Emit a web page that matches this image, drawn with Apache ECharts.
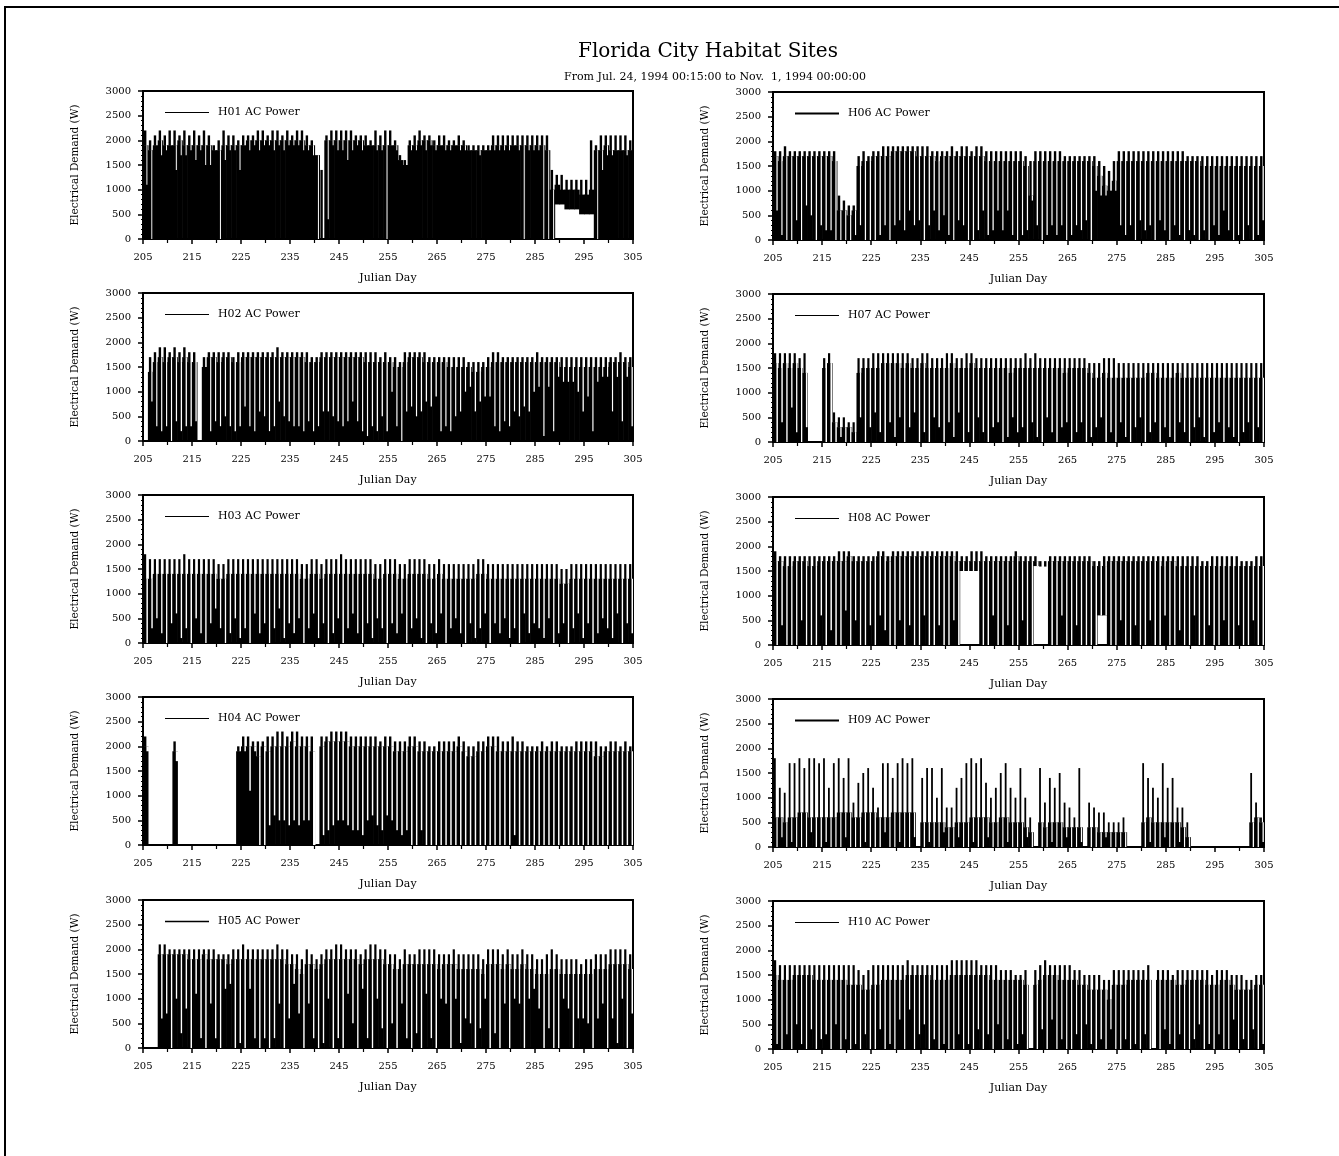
<!DOCTYPE html>
<html>
<head>
<meta charset="utf-8">
<script src="https://cdn.jsdelivr.net/npm/echarts@6/dist/echarts.min.js"></script>
<style>
html, body { margin: 0; background: #fff; }
#main { width: 1339px; height: 1156px; }
</style>
</head>
<body>
<div id="main"></div>
<script>
// Julian days 205..304, one entry per day; values are in units of 100 W
// peak = top of the spikes, level = top of the dense block,
// dip = how far down the white gap of that day reaches, base = bottom of the block
var firstDay = 205;

var h01Peak = [22,20,21,22,21,22,22,21,22,21, 22,21,22,21,19,20,22,21,21,20, 21,21,21,22,22,21,22,22,21,22, 21,22,22,21,20,17,14,21,22,22,
               22,22,22,21,21,21,20,22,21,22, 22,20,17,16,20,21,22,21,21,20, 21,21,20,20,21,20,19,19,19,19, 19,21,21,21,21,21,21,21,21,21,
               21,21,21,14,13,13,12,12,12,12, 12,20,19,21,21,21,21,21,21,20];
var h01Level = [19,18,19,20,19,19,19,20,19,19, 19,19,19,19,18,18,19,19,19,19, 19,20,20,20,20,20,20,20,20,20, 20,20,20,19,19,17,0,20,20,20,
                20,20,20,20,20,19,19,19,19,19, 19,19,16,15,19,19,20,20,20,19, 19,19,19,19,19,19,18,18,18,18, 18,19,19,19,19,19,19,19,19,19,
                19,19,18,10,11,10,10,10,10,9, 9,10,18,18,19,18,18,18,18,18];
var h01Dip = [11,0,19,17,18,19,14,17,17,18, 16,18,15,15,18,0,16,18,18,14, 19,18,19,18,19,19,18,19,18,19, 19,19,18,18,17,0,0,4,19,18,
              18,16,18,19,18,19,19,18,18,0, 19,18,16,15,18,18,19,18,19,18, 19,18,18,19,18,18,18,18,17,18, 18,18,18,18,18,19,18,0,18,18,
              18,0,0,0,11,10,10,10,10,9, 9,10,0,14,17,17,18,18,17,18];
var h01Base = [0,0,0,0,0,0,0,0,0,0, 0,0,0,0,0,0,0,0,0,0, 0,0,0,0,0,0,0,0,0,0, 0,0,0,0,0,0,0,0,0,0,
               0,0,0,0,0,0,0,0,0,0, 0,0,0,0,0,0,0,0,0,0, 0,0,0,0,0,0,0,0,0,0, 0,0,0,0,0,0,0,0,0,0,
               0,0,0,0,7,7,6,6,6,5, 5,5,0,0,0,0,0,0,0,0];

var h02Peak = [0,17,18,19,19,18,19,18,19,18, 18,0,17,18,18,18,18,18,17,18, 18,18,18,18,18,18,18,19,18,18, 18,18,18,18,17,17,18,18,18,18,
               18,18,18,18,18,18,18,18,17,18, 17,17,16,18,18,18,18,18,17,17, 17,17,17,17,17,17,16,16,16,16, 17,18,18,17,17,17,17,17,17,17,
               18,17,17,17,17,17,17,17,17,17, 17,17,17,17,17,17,17,18,17,17];
var h02Level = [0,14,16,17,16,17,17,16,17,16, 16,0,15,17,17,16,17,17,16,16, 17,17,17,17,17,17,17,17,17,17, 17,17,17,16,16,16,17,17,17,17,
                17,17,17,17,17,16,16,16,16,16, 16,15,15,16,17,17,17,16,16,16, 16,16,15,15,15,15,15,14,14,15, 15,16,16,16,16,16,16,16,16,16,
                16,16,16,16,16,15,15,15,15,15, 15,15,15,15,15,16,16,16,16,15];
var h02Dip = [0,8,3,2,3,0,4,2,3,3, 4,0,15,2,4,3,5,3,2,3, 7,3,2,6,5,2,3,8,5,4, 3,3,2,4,2,3,6,6,5,4,
              3,4,8,4,2,1,3,2,5,2, 10,3,0,6,7,5,6,8,7,9, 2,3,2,5,6,10,11,6,8,9, 9,3,2,4,3,6,5,7,6,10,
              11,1,11,2,13,12,12,12,10,6, 9,2,12,13,13,6,13,4,13,3];

var h03Peak = [18,17,17,17,17,17,17,17,18,17, 17,17,17,17,17,16,16,17,17,17, 17,17,17,17,17,17,17,17,17,17, 17,17,16,16,17,17,16,17,17,17,
               18,17,17,17,17,17,17,16,16,17, 17,17,16,16,17,17,17,17,16,16, 17,16,16,16,16,16,16,16,17,17, 16,16,16,16,16,16,16,16,16,16,
               16,16,16,16,16,15,15,16,16,16, 16,16,16,16,16,16,16,16,16,16];
var h03Level = [13,13,14,14,14,14,14,14,14,14, 14,14,14,14,14,13,13,14,14,14, 14,14,14,14,14,14,14,14,14,14, 14,14,13,13,14,14,13,14,14,14,
                14,14,14,14,14,14,14,13,13,14, 14,14,13,13,14,14,14,14,13,13, 14,13,13,13,13,13,13,13,14,14, 13,13,13,13,13,13,13,13,13,13,
                13,13,13,13,13,12,12,13,13,13, 13,13,13,13,13,13,13,13,13,13];
var h03Dip = [0,3,5,2,0,4,6,1,3,0, 5,2,0,4,7,3,0,2,5,1, 3,0,6,2,4,0,3,7,1,4, 2,5,0,3,6,1,4,0,2,5,
              0,3,6,2,0,4,1,5,3,0, 4,2,6,0,3,5,1,0,4,2, 6,0,3,5,2,0,4,1,3,6, 0,4,2,5,1,3,0,6,2,4,
              3,1,5,0,2,4,0,3,6,1, 4,0,2,5,3,1,6,0,4,2];

var h04Peak = [22,0,0,0,0,0,21,0,0,0, 0,0,0,0,0,0,0,0,0,20, 22,22,21,21,21,22,22,23,23,22, 23,23,22,22,22,0,22,22,23,23,
               23,23,22,22,22,22,22,22,21,22, 22,21,21,21,22,22,21,21,20,20, 21,21,21,21,22,21,20,20,21,21, 22,22,22,21,21,22,21,21,20,20,
               20,21,20,21,21,20,20,20,21,21, 21,21,21,20,20,21,21,20,21,20];
var h04Level = [20,0,0,0,0,0,19,0,0,0, 0,0,0,0,0,0,0,0,0,19, 20,20,20,18,20,19,20,20,20,20, 21,20,20,20,19,0,20,21,21,21,
                21,21,20,20,20,20,20,20,20,20, 20,19,19,19,20,20,19,19,19,19, 19,19,19,19,20,19,18,18,19,19, 20,20,19,19,19,19,19,19,19,19,
                19,19,19,19,19,19,19,19,19,19, 19,19,18,18,19,19,19,19,19,19];
var h04Dip = [19,0,0,0,0,0,17,0,0,0, 0,0,0,0,0,0,0,0,0,19, 19,11,19,0,0,4,6,5,5,4, 5,4,5,5,0,0,2,3,4,5,
              5,4,3,3,2,5,6,4,3,6, 5,3,2,3,0,0,3,0,0,0, 0,0,0,0,0,0,0,0,0,0, 0,0,0,0,0,2,0,0,0,0,
              0,0,0,0,0,0,0,0,0,0, 0,0,0,0,0,0,0,0,0,0];

var h05Peak = [0,0,0,21,21,20,20,20,20,20, 20,20,20,20,20,19,19,19,20,20, 21,20,20,20,20,20,20,21,20,20, 19,19,18,20,19,18,19,20,20,21,
               21,20,20,20,19,20,21,21,20,20, 19,19,18,20,19,19,20,20,20,20, 19,19,19,20,19,19,19,19,19,18, 20,20,20,19,20,19,19,20,19,19,
               18,18,19,20,19,18,18,18,18,17, 18,18,19,19,19,20,20,20,20,19];
var h05Level = [0,0,0,19,19,19,19,19,19,18, 18,18,19,18,18,18,18,17,18,18, 18,18,18,18,18,18,18,18,18,17, 17,16,15,17,17,16,17,18,18,18,
                18,18,18,18,17,18,18,18,18,17, 17,16,16,17,17,17,17,17,17,17, 16,17,17,17,16,16,16,16,16,15, 17,17,17,16,17,16,16,17,16,16,
                15,15,15,16,16,15,15,15,15,15, 15,15,16,16,16,17,17,17,17,16];
var h05Dip = [0,0,0,6,7,0,10,3,8,0, 11,2,0,9,2,0,12,13,0,1, 0,12,2,0,2,0,2,9,0,6, 13,7,0,9,2,0,1,10,0,2,
              0,11,5,0,12,2,0,10,4,0, 5,0,9,2,0,3,0,11,2,0, 10,9,0,10,1,6,5,0,4,10, 0,3,0,9,0,10,9,0,10,12,
              8,0,4,0,0,10,8,0,6,6, 5,0,6,9,0,6,1,10,0,7];

var h06Peak = [18,18,19,18,18,18,18,18,18,18, 18,18,18,9,8,7,7,17,18,17, 18,18,19,19,19,19,19,19,19,19, 19,19,18,18,18,18,19,18,19,19,
               18,19,19,18,18,18,18,18,18,18, 18,17,16,18,18,18,18,18,18,17, 17,17,17,17,17,17,16,15,14,16, 18,18,18,18,18,18,18,18,18,18,
               18,18,18,18,17,17,17,17,17,17, 17,17,17,17,17,17,17,17,17,17];
var h06Level = [17,16,17,17,17,17,17,17,17,17, 17,17,16,6,6,5,6,15,16,16, 17,17,17,17,18,18,18,18,18,17, 17,17,17,16,17,17,17,17,17,17,
                17,17,17,16,16,16,16,16,16,16, 16,15,9,16,16,16,16,16,16,16, 16,16,16,16,16,15,13,11,10,12, 16,16,16,16,16,16,16,16,16,16,
                16,16,16,16,16,16,16,15,15,15, 15,15,15,15,15,15,15,15,15,15];
var h06Dip = [6,1,0,0,4,0,7,5,0,3, 2,2,0,0,0,0,1,3,0,0, 0,1,3,0,3,4,2,6,3,4, 0,3,6,2,5,1,0,4,3,0,
              0,2,6,1,2,6,2,6,1,0, 1,2,8,3,0,1,3,1,3,0, 1,3,2,4,0,10,9,9,10,10, 3,1,3,0,4,2,3,0,4,2,
              0,3,1,0,2,1,0,2,0,3, 1,6,2,0,1,0,3,0,1,4];

var h07Peak = [18,18,18,18,18,17,18,0,0,0, 17,18,6,5,5,4,4,17,17,17, 18,18,18,18,18,18,18,18,17,17, 18,18,17,17,17,18,18,17,17,18,
               18,17,17,17,17,17,17,17,17,17, 17,18,17,18,17,17,17,17,17,17, 17,17,17,17,16,16,16,17,17,17, 16,16,16,16,16,16,16,16,16,16,
               16,16,16,16,16,16,16,16,16,16, 16,16,16,16,16,16,16,16,16,16];
var h07Level = [16,15,16,15,16,15,14,0,0,0, 15,16,4,3,3,3,2,14,15,15, 15,15,16,16,16,16,15,16,15,15, 16,15,15,15,15,15,16,15,15,15,
                16,15,15,15,15,15,15,15,14,15, 15,15,15,15,15,15,15,15,15,14, 15,15,15,15,14,13,13,14,13,13, 13,13,13,13,13,13,14,14,13,13,
                13,13,14,13,13,13,13,13,13,13, 13,13,13,13,13,13,13,13,13,13];
var h07Dip = [0,4,0,7,2,0,3,0,0,0, 0,0,0,1,0,0,0,5,0,3, 6,2,0,4,1,5,0,3,6,0, 2,0,5,3,0,4,1,6,0,2,
              0,5,2,0,3,4,0,1,5,2, 3,0,4,1,0,5,2,0,3,4, 0,2,4,0,1,3,5,0,2,0, 4,1,0,3,5,0,2,4,0,3,
              1,0,4,2,0,3,5,1,0,2, 4,0,3,1,0,2,4,0,3,0];

var h08Peak = [19,18,18,18,18,18,18,18,18,18, 18,18,18,19,19,19,18,18,18,18, 18,19,19,18,19,19,19,19,19,19, 19,19,19,19,19,19,19,19,18,18,
               19,19,19,18,18,18,18,18,18,19, 18,18,18,18,17,17,18,18,18,18, 18,18,18,18,18,17,17,18,18,18, 18,18,18,18,18,18,18,18,18,18,
               18,18,18,18,18,18,18,17,17,18, 18,18,18,18,18,17,17,17,18,18];
var h08Level = [17,17,16,16,17,17,17,16,16,17, 17,17,17,17,17,18,17,17,17,17, 17,18,18,17,18,18,18,18,18,18, 18,18,18,18,18,18,18,17,17,17,
                17,17,17,17,17,17,17,17,17,18, 17,17,17,17,16,16,17,17,17,17, 17,17,17,17,17,16,16,16,17,17, 17,17,17,17,17,17,17,17,17,16,
                17,17,16,16,16,16,16,16,16,16, 16,16,16,16,16,16,16,16,16,16];
var h08Dip = [0,4,0,0,0,5,0,0,0,6, 0,3,0,0,7,0,5,0,0,4, 0,6,3,0,0,5,0,4,0,0, 6,0,0,4,0,0,5,0,15,15,
              15,15,0,0,6,0,0,4,0,0, 5,0,0,16,16,16,0,0,6,0, 0,4,0,0,0,0,6,6,0,0, 5,0,0,4,0,0,5,0,0,6,
              0,0,3,0,0,6,0,0,4,0, 0,5,0,0,4,0,0,5,0,0];
var h08Base = [0,0,0,0,0,0,0,0,0,0, 0,0,0,0,0,0,0,0,0,0, 0,0,0,0,0,0,0,0,0,0, 0,0,0,0,0,0,0,0,15,15,
               15,15,0,0,0,0,0,0,0,0, 0,0,0,16,16,16,0,0,0,0, 0,0,0,0,0,0,6,6,0,0, 0,0,0,0,0,0,0,0,0,0,
               0,0,0,0,0,0,0,0,0,0, 0,0,0,0,0,0,0,0,0,0];

var h09Peak = [18,12,11,17,17,18,16,18,18,17, 18,12,17,18,14,18,9,13,15,16, 12,8,17,17,14,17,18,17,18,0, 14,16,16,10,16,8,8,12,14,17,
               18,17,18,13,10,12,15,17,12,10, 16,10,6,0,16,9,14,12,15,9, 8,6,16,0,9,8,7,7,5,5, 5,6,0,0,0,17,14,12,10,17,
               12,14,8,8,5,0,0,0,0,0, 0,0,0,0,0,0,0,15,9,6];
var h09Level = [6,6,5,6,6,7,7,6,6,6, 6,6,6,7,7,7,6,6,7,7, 7,6,6,6,7,7,7,7,7,0, 5,5,5,5,5,4,4,5,5,5,
                6,6,6,6,5,5,6,6,5,5, 5,4,3,0,5,4,5,5,5,4, 4,4,4,0,4,4,3,3,3,3, 3,3,0,0,0,5,6,5,5,5,
                5,5,5,4,2,0,0,0,0,0, 0,0,0,0,0,0,0,5,6,5];
var h09Dip = [0,2,0,1,0,0,0,3,0,0, 1,0,0,0,2,0,0,0,1,0, 0,0,3,0,0,1,0,0,2,0, 0,1,0,0,3,0,0,2,0,0,
              1,0,0,2,0,0,0,1,0,0, 0,2,0,0,0,0,1,0,0,2, 0,0,1,0,0,0,0,2,0,0, 0,0,0,0,0,0,1,0,0,2,
              0,0,1,0,0,0,0,0,0,0, 0,0,0,0,0,0,0,0,0,1];

var h10Peak = [18,17,17,17,17,17,17,17,17,17, 17,17,17,17,17,17,17,16,15,16, 17,17,17,17,17,17,17,18,17,17, 17,17,17,17,17,17,18,18,18,18,
               18,18,17,17,17,17,16,16,16,15, 15,16,0,16,17,18,17,17,17,17, 17,16,16,15,15,15,15,14,14,16, 16,16,16,16,16,16,17,0,16,16,
               16,15,16,16,16,16,16,16,16,15, 16,16,16,15,15,15,14,14,15,15];
var h10Level = [15,14,14,14,15,15,15,15,14,14, 14,14,14,14,14,13,13,13,12,12, 13,13,14,14,14,14,14,15,15,15, 15,15,14,14,14,14,15,15,15,15,
                15,15,15,15,14,14,14,14,14,14, 14,13,0,13,14,15,15,15,14,14, 14,14,13,13,12,12,12,12,10,13, 13,13,14,14,14,14,14,0,14,14,
                14,14,13,13,14,14,14,14,13,13, 13,14,14,13,12,12,12,12,13,13];
var h10Dip = [1,0,3,0,5,1,0,4,0,2, 3,0,5,0,2,0,1,0,3,0, 0,4,0,1,0,6,0,8,0,3, 5,0,2,0,1,0,0,3,0,1,
              0,4,0,3,0,5,0,2,0,1, 3,0,0,0,4,0,6,0,2,0, 0,3,0,5,1,0,2,0,4,0, 0,2,0,1,0,3,0,0,0,4,
              1,0,3,0,0,2,5,0,1,0, 3,0,0,6,0,2,0,4,0,1];

var siteNames = ['H01 AC Power','H02 AC Power','H03 AC Power','H04 AC Power','H05 AC Power',
                 'H06 AC Power','H07 AC Power','H08 AC Power','H09 AC Power','H10 AC Power'];
var sitePeaks  = [h01Peak, h02Peak, h03Peak, h04Peak, h05Peak, h06Peak, h07Peak, h08Peak, h09Peak, h10Peak];
var siteLevels = [h01Level, h02Level, h03Level, h04Level, h05Level, h06Level, h07Level, h08Level, h09Level, h10Level];
var siteDips   = [h01Dip, h02Dip, h03Dip, h04Dip, h05Dip, h06Dip, h07Dip, h08Dip, h09Dip, h10Dip];
var siteBases  = [h01Base, null, null, null, null, null, null, h08Base, null, null];

// drawing look per panel (pixels)
var gapWidths   = [1.0, 1.3, 1.6, 2.5, 1.7, 1.3, 1.6, 1.6, 1.3, 1.4];
var spikeWidths = [2.4, 2.4, 2.2, 2.4, 2.2, 2.4, 2.2, 2.4, 1.8, 2.2];
var legendLines = [1, 1, 1, 1, 1.5, 2, 1, 1, 2, 1];

var gridTops  = [[91, 293, 495, 697, 900], [92, 294, 497, 699, 901]];
var gridLefts = [143, 773];
var gridWidths = [490, 491];

var serif = 'DejaVu Serif';

function buildData(k) {
    var out = [];
    for (var i = 0; i < sitePeaks[k].length; i++) {
        var base = siteBases[k] ? siteBases[k][i] : 0;
        out.push([firstDay + i, sitePeaks[k][i] * 100, siteLevels[k][i] * 100, siteDips[k][i] * 100, base * 100]);
    }
    return out;
}

function makeRender(k) {
    return function (params, api) {
        var d = api.value(0), peak = api.value(1), level = api.value(2), dip = api.value(3), base = api.value(4);
        var x0 = api.coord([d, 0])[0];
        var x1 = api.coord([d + 1, 0])[0];
        var w = x1 - x0;
        var yBase = api.coord([d, base])[1];
        var yLevel = api.coord([d, level])[1];
        var hi = Math.max(level, base);
        var yHi = api.coord([d, hi])[1];
        var yPeak = api.coord([d, peak])[1];
        var kids = [];
        if (level > base) {
            kids.push({type: 'rect', shape: {x: x0, y: yLevel, width: w + 0.6, height: yBase - yLevel}, style: {fill: '#000'}});
        }
        if (peak > hi) {
            kids.push({type: 'rect', shape: {x: x0 + 0.2 * w, y: yPeak, width: spikeWidths[k], height: yHi - yPeak + 0.5}, style: {fill: '#000'}});
        }
        if (level > base && dip < level) {
            var yDip = api.coord([d, Math.max(dip, base)])[1];
            kids.push({type: 'rect', shape: {x: x0 + 0.7 * w, y: yLevel, width: gapWidths[k], height: yDip - yLevel}, style: {fill: '#fff'}});
        }
        return {type: 'group', children: kids};
    };
}

function buildOption() {
    var grids = [], xAxes = [], yAxes = [], legends = [], series = [];
    for (var k = 0; k < 10; k++) {
        var col = k < 5 ? 0 : 1;
        var row = k % 5;
        var gTop = gridTops[col][row];
        grids.push({
            left: gridLefts[col], top: gTop, width: gridWidths[col], height: 148,
            show: true, borderColor: '#000', borderWidth: 2, backgroundColor: '#fff'
        });
        xAxes.push({
            type: 'value', gridIndex: k, min: 205, max: 305, interval: 10,
            name: 'Julian Day', nameLocation: 'middle', nameGap: 34,
            nameTextStyle: {color: '#000', fontFamily: serif, fontSize: 11},
            axisLine: {lineStyle: {color: '#000', width: 2}},
            axisTick: {inside: false, length: 5, lineStyle: {color: '#000', width: 1.5}},
            minorTick: {show: true, splitNumber: 2, length: 4, lineStyle: {color: '#000', width: 1.2}},
            splitLine: {show: false},
            axisLabel: {color: '#000', fontFamily: serif, fontSize: 10, margin: 13}
        });
        yAxes.push({
            type: 'value', gridIndex: k, min: 0, max: 3000, interval: 500,
            name: 'Electrical Demand (W)', nameLocation: 'middle', nameGap: 62,
            nameTextStyle: {color: '#000', fontFamily: serif, fontSize: 10.5},
            axisLine: {lineStyle: {color: '#000', width: 2}},
            axisTick: {inside: false, length: 5, lineStyle: {color: '#000', width: 1.5}},
            minorTick: {show: true, splitNumber: 5, length: 2, lineStyle: {color: '#000'}},
            splitLine: {show: false},
            axisLabel: {color: '#000', fontFamily: serif, fontSize: 10, margin: 12,
                        formatter: function (v) { return String(v); }}
        });
        legends.push({
            data: [siteNames[k]],
            left: gridLefts[col] + 17, top: gTop + 11,
            selectedMode: false,
            icon: 'rect', itemWidth: 44, itemHeight: legendLines[k],
            itemStyle: {color: '#000'},
            textStyle: {color: '#000', fontFamily: serif, fontSize: 11, padding: [0, 0, 0, 4]}
        });
        series.push({
            name: siteNames[k],
            type: 'custom',
            xAxisIndex: k, yAxisIndex: k,
            clip: true,
            color: '#000',
            renderItem: makeRender(k),
            encode: {x: 0, y: [1, 2]},
            data: buildData(k)
        });
    }
    return {
        backgroundColor: '#fff',
        animation: false,
        title: [{
            text: 'Florida City Habitat Sites',
            left: 703, top: 37, textAlign: 'center',
            textStyle: {color: '#000', fontFamily: serif, fontSize: 20, fontWeight: 'normal'}
        }, {
            text: 'From Jul. 24, 1994 00:15:00 to Nov.  1, 1994 00:00:00',
            left: 710, top: 67, textAlign: 'center',
            textStyle: {color: '#000', fontFamily: serif, fontSize: 11, fontWeight: 'normal'}
        }],
        graphic: [{
            type: 'polyline',
            shape: {points: [[5, 1156], [5, 7], [1339, 7]]},
            style: {stroke: '#000', lineWidth: 2, fill: null}
        }],
        grid: grids,
        xAxis: xAxes,
        yAxis: yAxes,
        legend: legends,
        series: series
    };
}

var myChart = echarts.init(document.getElementById('main'));
myChart.setOption(buildOption());
</script>
</body>
</html>
